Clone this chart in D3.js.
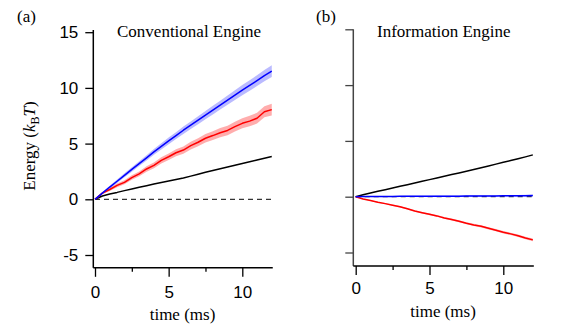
<!DOCTYPE html>
<html>
<head>
<meta charset="utf-8">
<script src="https://cdn.jsdelivr.net/npm/d3@7"></script>
<style>
  body { margin: 0; background: #fff; }
  .tick text { font-family: "Liberation Sans", Arial, sans-serif; font-size: 17px; fill: #000; }
  .serif { font-family: "Liberation Serif", "Times New Roman", serif; font-size: 17px; fill: #000; }
</style>
</head>
<body>
<script>
const width = 581;
const height = 333;

// time in ms
const time = [0, 0.5, 1, 1.5, 2, 2.5, 3, 3.5, 4, 4.5, 5, 5.5, 6, 6.5, 7, 7.5, 8, 8.5, 9, 9.5, 10, 10.5, 11, 11.5, 12];

// (a) conventional engine, energy in kBT
const conv_blue = [0, 0.55, 1.1, 1.62, 2.15, 2.68, 3.2, 3.72, 4.25, 4.75, 5.25, 5.72, 6.2, 6.65, 7.1, 7.55, 8.0, 8.45, 8.9, 9.35, 9.8, 10.22, 10.65, 11.1, 11.5];
const conv_blue_err = [0, 0.08, 0.12, 0.15, 0.18, 0.2, 0.22, 0.24, 0.26, 0.28, 0.3, 0.31, 0.33, 0.34, 0.36, 0.37, 0.39, 0.4, 0.42, 0.43, 0.45, 0.47, 0.49, 0.51, 0.53];
const conv_red = [0, 0.55, 0.88, 1.25, 1.52, 1.95, 2.28, 2.72, 3.05, 3.5, 3.82, 4.18, 4.42, 4.82, 5.12, 5.48, 5.72, 5.98, 6.18, 6.52, 6.82, 7.02, 7.28, 7.86, 8.05];
const conv_red_err = [0, 0.1, 0.13, 0.16, 0.18, 0.2, 0.22, 0.24, 0.26, 0.28, 0.3, 0.31, 0.33, 0.35, 0.36, 0.38, 0.39, 0.41, 0.42, 0.44, 0.45, 0.47, 0.48, 0.5, 0.52];
const conv_black = [0, 0.3, 0.48, 0.62, 0.78, 0.93, 1.08, 1.22, 1.37, 1.5, 1.64, 1.78, 1.92, 2.08, 2.25, 2.42, 2.58, 2.74, 2.9, 3.06, 3.22, 3.37, 3.52, 3.68, 3.85];

// (b) information engine
const info_blue = [0, 0.01, 0.01, 0.02, 0.02, 0.02, 0.03, 0.03, 0.03, 0.04, 0.04, 0.04, 0.05, 0.05, 0.05, 0.06, 0.06, 0.06, 0.07, 0.07, 0.08, 0.08, 0.08, 0.09, 0.1];
const info_blue_err = [0, 0.02, 0.03, 0.03, 0.04, 0.04, 0.04, 0.05, 0.05, 0.05, 0.05, 0.06, 0.06, 0.06, 0.06, 0.06, 0.07, 0.07, 0.07, 0.07, 0.07, 0.08, 0.08, 0.08, 0.08];
const info_red = [0, -0.2, -0.35, -0.5, -0.62, -0.76, -0.9, -1.08, -1.28, -1.43, -1.58, -1.72, -1.9, -2.05, -2.2, -2.38, -2.53, -2.65, -2.83, -3.0, -3.18, -3.33, -3.5, -3.7, -3.87];
const info_red_err = [0, 0.03, 0.04, 0.05, 0.05, 0.06, 0.06, 0.07, 0.07, 0.07, 0.08, 0.08, 0.08, 0.09, 0.09, 0.09, 0.1, 0.1, 0.1, 0.1, 0.11, 0.11, 0.11, 0.12, 0.12];
const info_black = [0, 0.17, 0.33, 0.48, 0.63, 0.78, 0.93, 1.08, 1.23, 1.38, 1.53, 1.68, 1.83, 1.98, 2.13, 2.28, 2.44, 2.6, 2.76, 2.92, 3.08, 3.24, 3.4, 3.57, 3.75];

const y_ticks = [-5, 0, 5, 10, 15];
const x_major = [0, 5, 10];
const x_minor = [2.5, 7.5];

const svg = d3.select('body')
    .append('svg')
    .attr('width', width)
    .attr('height', height);

function panel(opt) {
    const x = d3.scaleLinear().domain([0, 12]).range([opt.x0, opt.x0 + 12 * opt.px_per_ms]);
    const y = d3.scaleLinear().domain([0, 15]).range([opt.y0, opt.y0 - 15 * opt.px_per_unit]);
    const left = opt.axis_x;
    const bottom = y(opt.y_bottom);
    const top = y(opt.y_top);
    const g = svg.append('g');

    // dashed zero line
    g.append('line')
        .attr('x1', x(0)).attr('x2', x(12))
        .attr('y1', y(0)).attr('y2', y(0))
        .attr('stroke', 'black')
        .attr('stroke-width', 1)
        .attr('stroke-dasharray', '5,4');

    const area = d3.area()
        .x((d, i) => x(time[i]))
        .y0(d => y(d[0] - d[1]))
        .y1(d => y(d[0] + d[1]));
    const line = d3.line()
        .x((d, i) => x(time[i]))
        .y(d => y(d));

    opt.series.forEach(s => {
        if (s.err) {
            g.append('path')
                .attr('d', area(d3.zip(s.values, s.err)))
                .attr('fill', s.band)
                .attr('stroke', 'none');
        }
    });
    opt.series.forEach(s => {
        g.append('path')
            .attr('d', line(s.values))
            .attr('fill', 'none')
            .attr('stroke', s.color)
            .attr('stroke-width', 1.5)
            .attr('stroke-linejoin', 'round');
    });

    // y axis
    g.append('g')
        .attr('transform', `translate(${left},0)`)
        .call(d3.axisLeft(y).tickValues(y_ticks).tickSize(8).tickPadding(7)
            .tickFormat(opt.y_labels ? d => String(d) : ''))
        .call(a => a.select('.domain').remove())
        .call(a => a.selectAll('.tick line').attr('stroke', opt.y_color).attr('stroke-width', 1.3))
        .call(a => a.selectAll('.tick text').attr('font-family', null).attr('font-size', null));
    g.append('line')
        .attr('x1', left).attr('x2', left)
        .attr('y1', top).attr('y2', bottom)
        .attr('stroke', opt.y_color)
        .attr('stroke-width', 1.5);

    // x axis
    g.append('g')
        .attr('transform', `translate(0,${bottom})`)
        .call(d3.axisBottom(x).tickValues(x_major).tickSize(9).tickPadding(opt.x_pad).tickFormat(d => String(d)))
        .call(a => a.select('.domain').remove())
        .call(a => a.selectAll('.tick line').attr('stroke-width', 1.3))
        .call(a => a.selectAll('.tick text').attr('font-family', null).attr('font-size', null));
    g.append('g')
        .attr('transform', `translate(0,${bottom})`)
        .call(d3.axisBottom(x).tickValues(x_minor).tickSize(4).tickFormat(''))
        .call(a => a.select('.domain').remove())
        .call(a => a.selectAll('.tick line').attr('stroke-width', 1.3));
    g.append('line')
        .attr('x1', left).attr('x2', x(12) + 1)
        .attr('y1', bottom).attr('y2', bottom)
        .attr('stroke', 'black')
        .attr('stroke-width', 1.5);

    g.append('text')
        .attr('class', 'serif')
        .attr('x', (left + x(12)) / 2)
        .attr('y', opt.xlabel_y)
        .attr('text-anchor', 'middle')
        .text('time (ms)');
    g.append('text')
        .attr('class', 'serif')
        .attr('x', opt.title_x)
        .attr('y', 37)
        .text(opt.title);
    g.append('text')
        .attr('class', 'serif')
        .attr('x', opt.tag_x)
        .attr('y', 22)
        .text(opt.tag);
}

panel({
    x0: 95, px_per_ms: 14.73, y0: 199.3, px_per_unit: 11.14,
    axis_x: 93.3, y_top: 15.2, y_bottom: -6.15, y_color: 'black', y_labels: true,
    x_pad: 9, xlabel_y: 320, title: 'Conventional Engine', title_x: 117, tag: '(a)', tag_x: 17,
    series: [
        {values: conv_black, color: 'black'},
        {values: conv_red, err: conv_red_err, color: '#ff0000', band: 'rgba(255,0,0,0.32)'},
        {values: conv_blue, err: conv_blue_err, color: '#0000ff', band: 'rgba(40,40,255,0.32)'}
    ]
});

panel({
    x0: 355.7, px_per_ms: 14.76, y0: 196.7, px_per_unit: 11.16,
    axis_x: 353.3, y_top: 15, y_bottom: -6.2, y_color: '#444', y_labels: false,
    x_pad: 7, xlabel_y: 317, title: 'Information Engine', title_x: 377, tag: '(b)', tag_x: 316,
    series: [
        {values: info_black, color: 'black'},
        {values: info_red, err: info_red_err, color: '#ff0000', band: 'rgba(255,0,0,0.3)'},
        {values: info_blue, err: info_blue_err, color: '#0000ff', band: 'rgba(40,40,255,0.3)'}
    ]
});

// y label
const ylab = svg.append('text')
    .attr('class', 'serif')
    .attr('transform', 'translate(35,146) rotate(-90)')
    .attr('text-anchor', 'middle');
ylab.append('tspan').text('Energy (');
ylab.append('tspan').attr('font-style', 'italic').text('k');
ylab.append('tspan').attr('font-size', '12px').attr('dy', 4).text('B');
ylab.append('tspan').attr('font-style', 'italic').attr('dy', -4).text('T');
ylab.append('tspan').text(')');
</script>
</body>
</html>
